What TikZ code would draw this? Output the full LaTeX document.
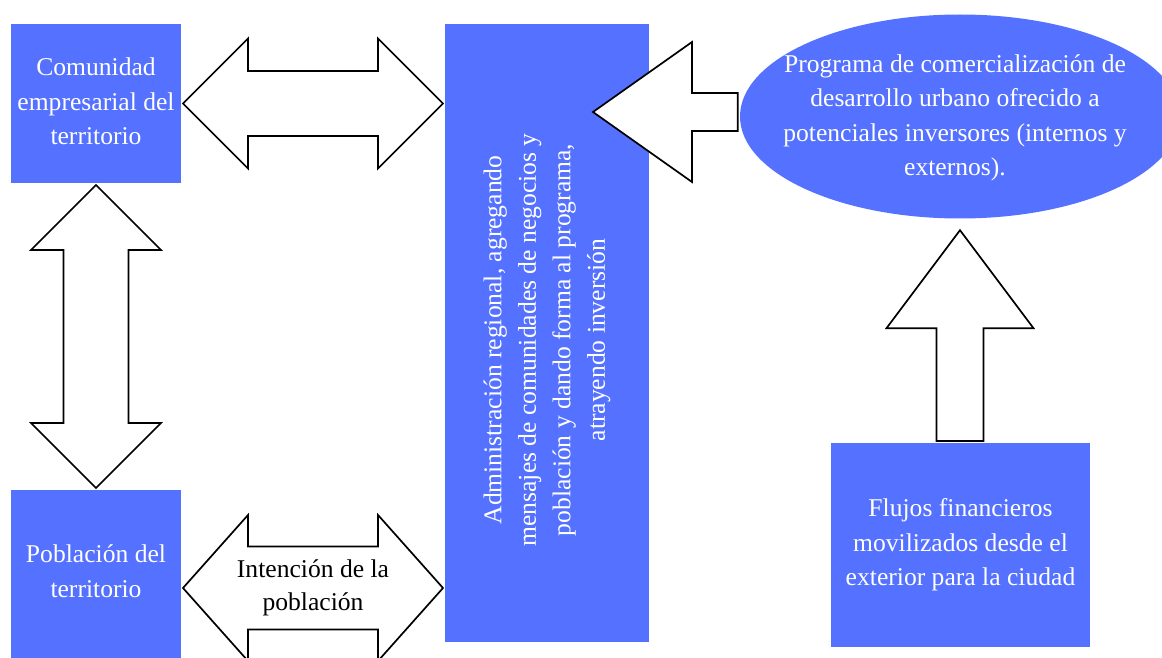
\documentclass[tikz,border=0pt]{standalone}
\usepackage{fontspec}
\setmainfont{Liberation Serif}
\usetikzlibrary{calc,shapes.geometric}
\definecolor{boxblue}{RGB}{84,113,255}

\tikzset{
  box/.style={fill=boxblue, draw=none, inner sep=0pt, outer sep=0pt, anchor=north west},
  boxtext/.style={text=white, align=center, font=\fontsize{25.6}{34.5}\selectfont},
  arrowtext/.style={text=black, align=center, font=\fontsize{25.6}{33}\selectfont},
  blockarrow/.style={draw=black, fill=white, line width=1.7pt, line join=miter},
}

% horizontal double block arrow: #1 left tip, #2 right tip, #3 head length, #4 half head width, #5 half shaft width
\newcommand\hdoublearrow[5]{%
  \draw[blockarrow] let \p1=(#1), \p2=(#2) in
    (\x1,\y1) -- (\x1+#3,\y1+#4) -- (\x1+#3,\y1+#5) -- (\x2-#3,\y1+#5) -- (\x2-#3,\y1+#4)
    -- (\x2,\y1) -- (\x2-#3,\y1-#4) -- (\x2-#3,\y1-#5) -- (\x1+#3,\y1-#5) -- (\x1+#3,\y1-#4) -- cycle;}
% vertical double block arrow: #1 top tip, #2 bottom tip
\newcommand\vdoublearrow[5]{%
  \draw[blockarrow] let \p1=(#1), \p2=(#2) in
    (\x1,\y1) -- (\x1+#4,\y1-#3) -- (\x1+#5,\y1-#3) -- (\x1+#5,\y2+#3) -- (\x1+#4,\y2+#3)
    -- (\x1,\y2) -- (\x1-#4,\y2+#3) -- (\x1-#5,\y2+#3) -- (\x1-#5,\y1-#3) -- (\x1-#4,\y1-#3) -- cycle;}
% left-pointing block arrow: #1 tip, #2 tail
\newcommand\leftblockarrow[5]{%
  \draw[blockarrow] let \p1=(#1), \p2=(#2) in
    (\x1,\y1) -- (\x1+#3,\y1+#4) -- (\x1+#3,\y1+#5) -- (\x2,\y1+#5) -- (\x2,\y1-#5)
    -- (\x1+#3,\y1-#5) -- (\x1+#3,\y1-#4) -- cycle;}
% upward block arrow: #1 tip, #2 tail
\newcommand\upblockarrow[5]{%
  \draw[blockarrow] let \p1=(#1), \p2=(#2) in
    (\x1,\y1) -- (\x1+#4,\y1-#3) -- (\x1+#5,\y1-#3) -- (\x1+#5,\y2) -- (\x1-#5,\y2)
    -- (\x1-#5,\y1-#3) -- (\x1-#4,\y1-#3) -- cycle;}

\begin{document}
\begin{tikzpicture}[x=1pt, y=-1pt]
  \useasboundingbox (0,0) rectangle (1162,658);
  \clip (0,0) rectangle (1162,658);

  % boxes
  \node[box, minimum width=170pt, minimum height=159pt] (com) at (11,24) {};
  \node[boxtext] (comtext) at ($(com.center)+(0,-2)$)
    {Comunidad\\empresarial del\\territorio};
  \node[box, minimum width=170pt, minimum height=175pt] (pop) at (11,490) {};
  \node[boxtext] (poptext) at ($(pop.north)+(0,81)$) {Población del\\territorio};
  \node[box, minimum width=204pt, minimum height=618pt] (adm) at (445,24) {};
  \node[boxtext, rotate=90] (admtext) at ($(adm.center)+(0,7)$)
    {Administración regional, agregando\\mensajes de comunidades de negocios y\\población y dando forma al programa,\\atrayendo inversión};
  \node[ellipse, fill=boxblue, inner sep=0pt, minimum width=440pt, minimum height=204pt] (prog) at (960,116.5) {};
  \node[boxtext] (progtext) at ($(prog.center)+(-5,1.5)$)
    {Programa de comercialización de\\desarrollo urbano ofrecido a\\potenciales inversores (internos y\\externos).};
  \node[box, boxtext, minimum width=259pt, minimum height=204pt] (flu) at (831,443)
    {Flujos financieros\\movilizados desde el\\exterior para la ciudad};

  % arrow end points
  \coordinate (a1s) at ($(com.east)+(2,0)$);
  \coordinate (a1e) at ($(adm.west |- com.east)+(-2,0)$);
  \coordinate (a2s) at ($(com.south)+(0,2)$);
  \coordinate (a2e) at ($(pop.north)+(0,-2)$);
  \coordinate (a3s) at ($(pop.north east)+(2,98)$);
  \coordinate (a3e) at ($(adm.west |- a3s)+(-2,0)$);
  \coordinate (a4tip) at ($(adm.north east)+(-56,88)$);
  \coordinate (a4tail) at ($(prog.west)+(-2,-4.5)$);
  \coordinate (a5tip) at ($(prog.south)+(0,11.5)$);
  \coordinate (a5tail) at ($(flu.north)+(0,-2)$);

  % block arrows
  \hdoublearrow{a1s}{a1e}{65pt}{65pt}{32.5pt}
  \vdoublearrow{a2s}{a2e}{65pt}{65pt}{32.5pt}
  \hdoublearrow{a3s}{a3e}{65pt}{73pt}{41.5pt}
  \leftblockarrow{a4tip}{a4tail}{99pt}{70pt}{19pt}
  \upblockarrow{a5tip}{a5tail}{98pt}{73.5pt}{23.5pt}

  \node[arrowtext] (intent) at ($(a3s)!0.5!(a3e)$) {Intención de la\\población};
\end{tikzpicture}
\end{document}
